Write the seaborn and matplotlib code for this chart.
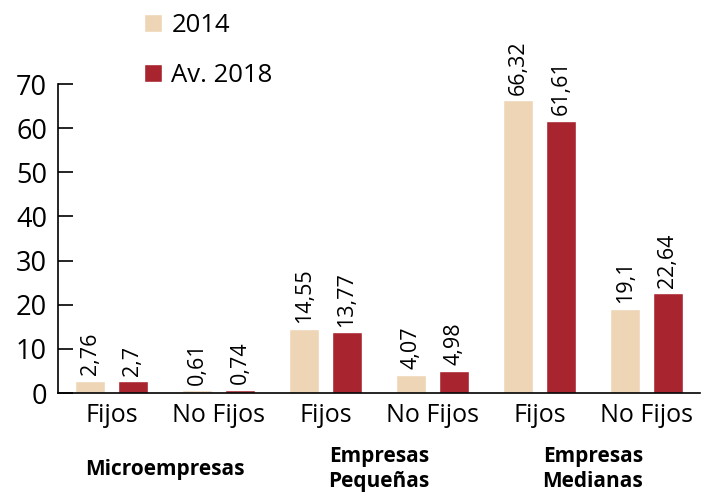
import matplotlib
matplotlib.use("Agg")
import matplotlib.pyplot as plt
import matplotlib.transforms as mtransforms
import seaborn as sns
import pandas as pd

categories = ["Fijos", "No Fijos", "Fijos", "No Fijos", "Fijos", "No Fijos"]
groups = ["Microempresas", "Empresas\nPequeñas", "Empresas\nMedianas"]
series_names = ["2014", "Av. 2018"]
values_2014 = [2.76, 0.61, 14.55, 4.07, 66.32, 19.1]
values_2018 = [2.7, 0.74, 13.77, 4.98, 61.61, 22.64]
yticks = [0, 10, 20, 30, 40, 50, 60, 70]

colors = ["#EDD5B5", "#A8242E"]

sns.set_theme(style="white")
plt.rcParams["font.family"] = ["Open Sans", "DejaVu Sans"]

slots = [f"s{i}" for i in range(len(categories))]
df = pd.DataFrame({
    "slot": slots * 2,
    "value": values_2014 + values_2018,
    "serie": [series_names[0]] * len(slots) + [series_names[1]] * len(slots),
})

fig = plt.figure(figsize=(7.13, 4.96), dpi=100)
ax = fig.add_axes([58 / 713, 103 / 496, 642 / 713, 309 / 496])

sns.barplot(data=df, x="slot", y="value", hue="serie", order=slots,
            hue_order=series_names, palette=colors, width=0.8, gap=0.3,
            saturation=1, ax=ax, errorbar=None)

def fmt(v):
    s = f"{v:.2f}".rstrip("0").rstrip(".")
    return s.replace(".", ",")

for cont in ax.containers:
    labels = [fmt(b.get_height()) for b in cont]
    ax.bar_label(cont, labels=labels, rotation=90, padding=4, fontsize=15.5,
                 color="black", clip_on=False)

ax.set_xlim(-0.5, 5.5)
ax.set_ylim(0, 70)
ax.set_yticks(yticks)
ax.set_yticklabels([str(t) for t in yticks], fontsize=19.5, color="black")
ax.set_xticks(range(len(categories)))
ax.set_xticklabels(categories, fontsize=18, color="black")
ax.set_xticks([1.5, 3.5, 5.5], minor=True)
ax.tick_params(axis="x", which="major", length=0, pad=7)
ax.tick_params(axis="x", which="minor", direction="in", length=6, width=1.2, color="black")
ax.tick_params(axis="y", direction="in", length=11, width=1.2, color="black", pad=8, left=True)
ax.set_xlabel("")
ax.set_ylabel("")
for sp in ["top", "right"]:
    ax.spines[sp].set_visible(False)
for sp in ["left", "bottom"]:
    ax.spines[sp].set_color("black")
    ax.spines[sp].set_linewidth(1.2)

trans = mtransforms.blended_transform_factory(ax.transData, fig.transFigure)
for i, g in enumerate(groups):
    ax.text(2 * i + 0.5, 27 / 496, g, transform=trans, ha="center", va="center",
            fontsize=15, fontweight="bold", color="black", linespacing=1.3,
            clip_on=False)

handles, labels = ax.get_legend_handles_labels()
ax.legend(handles, labels, loc="upper left", bbox_to_anchor=(134 / 713, 1 - 3 / 496),
          bbox_transform=fig.transFigure, frameon=False, fontsize=18.5,
          handlelength=0.7, handleheight=0.7, handletextpad=0.35,
          labelspacing=0.95, borderaxespad=0, labelcolor="black")

fig.savefig("out.png", dpi=100)
